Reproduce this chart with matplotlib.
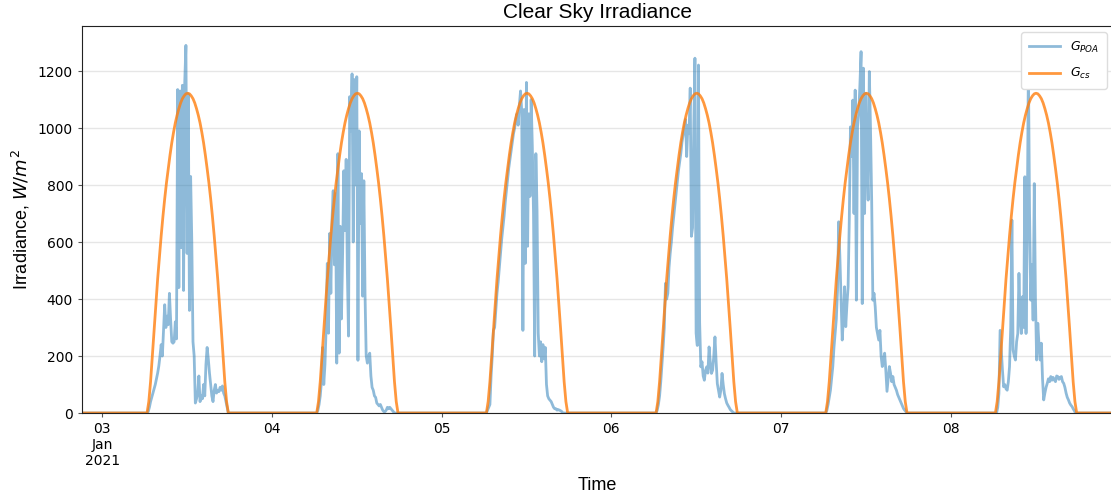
import numpy as np
import pandas as pd
import matplotlib.pyplot as plt

# days shown on the chart
days = ["2021-01-03", "2021-01-04", "2021-01-05", "2021-01-06", "2021-01-07", "2021-01-08"]
tick_labels = ["03\nJan\n2021", "04", "05", "06", "07", "08"]

# measured plane-of-array irradiance, 10 min samples from the start time of each day (W/m2)
gpoa_start = ["06:20", "06:30", "06:30", "06:30", "06:30", "06:30"]
gpoa_03 = [0, 5, 20, 40, 55, 70, 85, 100, 120, 140, 165, 200, 240, 200, 290, 380, 300, 340,
           310, 420, 330, 250, 245, 250, 320, 260, 1135, 440, 1130, 580, 1150, 430, 1160, 1290,
           560, 1120, 360, 830, 600, 250, 200, 35, 50, 70, 130, 40, 60, 50, 100, 60, 170, 230,
           190, 140, 100, 60, 40, 80, 100, 70, 80, 75, 90, 80, 95, 70, 60, 40, 20, 0]
gpoa_04 = [10, 30, 60, 110, 230, 100, 170, 300, 525, 280, 630, 420, 680, 780, 520, 770, 175,
           910, 210, 655, 330, 560, 850, 640, 890, 500, 270, 1110, 990, 1190, 600, 1170, 800,
           1180, 185, 990, 665, 840, 410, 815, 420, 200, 175, 200, 210, 130, 90, 80, 60, 55,
           35, 30, 25, 30, 20, 10, 5, 5, 10, 20, 15, 20, 15, 10, 5, 0]
gpoa_05 = [10, 20, 30, 130, 200, 290, 300, 360, 420, 460, 510, 560, 610, 650, 690, 740, 780,
           820, 860, 890, 920, 950, 980, 1000, 1030, 1050, 1010, 1080, 1130, 1060, 290, 1065,
           525, 1160, 585, 1050, 760, 1100, 935, 700, 200, 910, 710, 280, 200, 250, 180, 240,
           190, 230, 100, 60, 50, 45, 40, 30, 20, 15, 15, 10, 12, 10, 8, 5, 0]
gpoa_06 = [10, 30, 60, 110, 170, 230, 300, 455, 400, 420, 510, 560, 600, 650, 690, 730, 770,
           810, 850, 880, 910, 950, 975, 1000, 1030, 900, 1010, 980, 1140, 620, 650, 1000, 1245,
           280, 237, 1221, 317, 162, 180, 130, 115, 150, 162, 140, 232, 180, 139, 150, 200, 267,
           180, 103, 80, 56, 80, 139, 100, 68, 50, 35, 27, 20, 12, 8, 4, 0]
gpoa_07 = [10, 30, 55, 80, 120, 163, 230, 279, 330, 431, 671, 550, 396, 256, 330, 443, 303,
           380, 443, 677, 1004, 900, 1098, 700, 1133, 396, 1004, 1050, 1150, 1268, 384, 1210,
           700, 1122, 900, 747, 1198, 1000, 747, 396, 420, 373, 300, 279, 256, 290, 200, 163,
           190, 210, 150, 76, 120, 163, 140, 110, 128, 100, 90, 80, 65, 55, 46, 35, 25, 16, 10,
           5, 0]
gpoa_08 = [0, 20, 69, 290, 221, 150, 92, 100, 85, 80, 110, 163, 300, 677, 221, 200, 186, 250,
           279, 490, 330, 279, 408, 300, 829, 279, 630, 1221, 700, 396, 520, 326, 805, 400, 186,
           315, 240, 186, 245, 120, 46, 70, 90, 104, 120, 110, 128, 115, 125, 116, 110, 130,
           128, 118, 125, 128, 110, 104, 90, 70, 55, 46, 35, 28, 23, 15, 8, 0]
gpoa_days = [gpoa_03, gpoa_04, gpoa_05, gpoa_06, gpoa_07, gpoa_08]

# clear sky irradiance, 15 min samples from 06:20 (same daily profile each day)
gcs_start = "06:20"
gcs_profile = [0, 40, 110, 200, 295, 385, 470, 548, 622, 690, 752, 808, 858, 905, 948, 985,
               1018, 1045, 1068, 1088, 1103, 1113, 1120, 1122, 1120, 1113, 1103, 1088, 1068,
               1045, 1018, 985, 948, 905, 858, 808, 752, 690, 622, 548, 470, 385, 295, 200, 110,
               40, 0]

t_first = pd.Timestamp("2021-01-02 21:08")
t_last = pd.Timestamp("2021-01-08 23:00")

idx10 = pd.date_range("2021-01-02 21:00", "2021-01-09 00:00", freq="10min")
gpoa = pd.Series(0.0, index=idx10)
for day, st, vals in zip(days, gpoa_start, gpoa_days):
    gpoa.loc[pd.date_range(pd.Timestamp(day + " " + st), periods=len(vals), freq="10min")] = vals

idx15 = pd.date_range("2021-01-02 21:05", "2021-01-09 00:05", freq="15min")
gcs = pd.Series(0.0, index=idx15)
for day in days:
    gcs.loc[pd.date_range(pd.Timestamp(day + " " + gcs_start), periods=len(gcs_profile), freq="15min")] = gcs_profile

fig = plt.figure(figsize=(11.11, 4.96), dpi=100)
ax = fig.add_axes([0.0738, 0.1673, 0.9282, 0.7803])

ax.plot(gpoa.index, gpoa.values, color="#1f77b4", alpha=0.5, lw=2, label=r"$G_{POA}$")
ax.plot(gcs.index, gcs.values, color="#ff7f0e", alpha=0.8, lw=2, label=r"$G_{cs}$")

ax.set_xlim(t_first, t_last)
ax.set_ylim(0, 1358)
ax.set_xticks([pd.Timestamp(d) for d in days])
ax.set_xticklabels(tick_labels)
ax.set_yticks(np.arange(0, 1201, 200))
ax.yaxis.grid(True, color="#e6e6e6", lw=1)
ax.set_axisbelow(True)
ax.tick_params(axis="both", labelsize=10, length=3, width=0.8, color="#555555")
ax.spines["right"].set_visible(False)
for s in ["left", "bottom", "top"]:
    ax.spines[s].set_color("#222222")

ax.set_title("Clear Sky Irradiance", fontsize=15, family="Liberation Sans")
ax.set_xlabel("Time", fontsize=13, family="Liberation Sans", labelpad=6)
ax.set_ylabel(r"Irradiance, $W/m^2$", fontsize=13, family="Liberation Sans")
leg = ax.legend(loc="upper right", fontsize=9, handlelength=2.5, labelspacing=0.9,
                borderpad=0.6, framealpha=1)
leg.get_frame().set_edgecolor("#dddddd")

fig.savefig("out.png", dpi=100)
